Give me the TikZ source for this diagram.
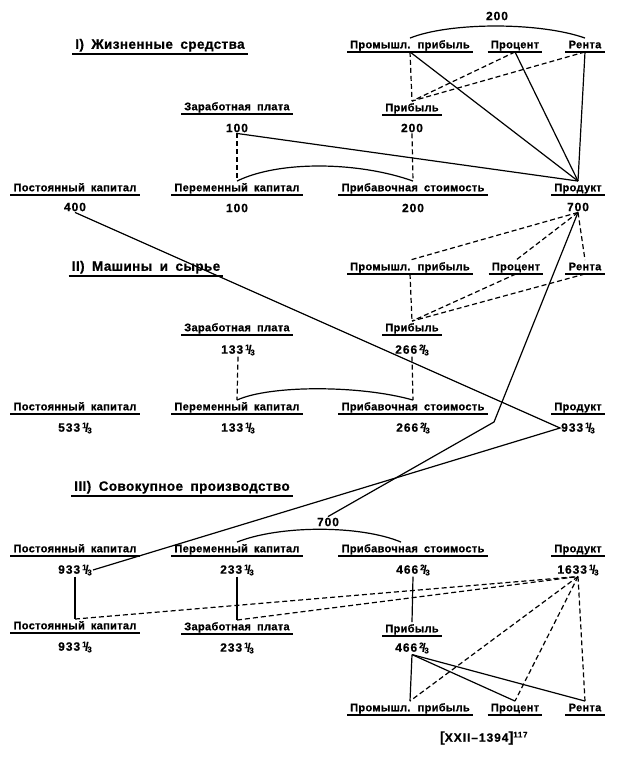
\documentclass[tikz,border=0pt]{standalone}
\usepackage{fontspec}
\setmainfont{Liberation Sans}
\newfontfamily\lblfont{Liberation Sans}[LetterSpace=3,WordSpace=1.8,BoldFeatures={FakeBold=0.6}]
\newfontfamily\numfont{Liberation Sans}[LetterSpace=8,BoldFeatures={FakeBold=0.6}]
\usetikzlibrary{calc}
\tikzset{>={stealth}}
\newcommand{\fr}[2]{\,\raisebox{.55ex}{\fontsize{8}{9}\selectfont#1}\kern-.12em/\kern-.1em\raisebox{-.25ex}{\fontsize{8}{9}\selectfont#2}}

\begin{document}
\begin{tikzpicture}[x=1pt,y=-1pt,
  lbl/.style={font=\lblfont\bfseries\fontsize{11}{12}\selectfont, inner xsep=3pt, inner ysep=2.5pt,
    text height=7.5pt, text depth=1pt,
    append after command={(\tikzlastnode.south west) edge[line width=1.7pt] (\tikzlastnode.south east)}},
  ttl/.style={lbl, font=\lblfont\bfseries\fontsize{13.5}{15}\selectfont, text height=10pt, text depth=2.5pt},
  num/.style={font=\numfont\bfseries\fontsize{12}{14}\selectfont, inner sep=1pt},
  ln/.style={line width=1.2pt},
  dsh/.style={line width=1.2pt, dash pattern=on 5pt off 3pt}]
\useasboundingbox (0,0) rectangle (619,763);

% I
\node[ttl] (t1) at (160,45) {I) Жизненные средства};
\node[lbl] (pp1) at (410,45) {Промышл. прибыль};
\node[lbl] (pc1) at (515,45) {Процент};
\node[lbl] (rn1) at (585,45) {Рента};
\node[num] (s1) at (497,16) {200};
\node[lbl] (zp1) at (237,107) {Заработная плата};
\node[num] (zp1v) at (237,128) {100};
\node[lbl] (pr1) at (412,108) {Прибыль};
\node[num] (pr1v) at (412,128) {200};
\node[lbl] (pk1) at (75,188) {Постоянный капитал};
\node[num] (pk1v) at (75,207) {400};
\node[lbl] (vk1) at (237,188) {Переменный капитал};
\node[num] (vk1v) at (237,208) {100};
\node[lbl] (ps1) at (413,188) {Прибавочная стоимость};
\node[num] (ps1v) at (413,208) {200};
\node[lbl] (pd1) at (578,188) {Продукт};
\node[num] (pd1v) at (578,207) {700};

\draw[ln] (pp1.north) .. controls (450,22) and (540,22) .. (rn1.north);
\draw[dsh] (pp1.south) -- (pr1.north);
\draw[dsh] (pc1.south) -- (pr1.north);
\draw[dsh] (rn1.south) -- (pr1.north);
\draw[ln] (pp1.south) -- (pd1.north);
\draw[ln] (pc1.south) -- (pd1.north);
\draw[ln] (rn1.south) -- (pd1.north);
\draw[ln] (zp1v.south) -- (pd1.north);
\draw[dsh] (zp1v.south) -- (vk1.north);
\draw[dsh] (pr1v.south) -- (ps1.north);
\draw[ln] (vk1.north) .. controls (280,160) and (360,162) .. (ps1.north);

% II
\node[ttl] (t2) at (146,267) {II) Машины и сырье};
\node[lbl] (pp2) at (410,267) {Промышл. прибыль};
\node[lbl] (pc2) at (516,267) {Процент};
\node[lbl] (rn2) at (585,267) {Рента};
\node[lbl] (zp2) at (237,328) {Заработная плата};
\node[num] (zp2v) at (238,350) {133\fr13};
\node[lbl] (pr2) at (412,328) {Прибыль};
\node[num] (pr2v) at (412,350) {266\fr23};
\node[lbl] (pk2) at (75,407) {Постоянный капитал};
\node[num] (pk2v) at (75,428) {533\fr13};
\node[lbl] (vk2) at (237,407) {Переменный капитал};
\node[num] (vk2v) at (238,428) {133\fr13};
\node[lbl] (ps2) at (413,407) {Прибавочная стоимость};
\node[num] (ps2v) at (413,428) {266\fr23};
\node[lbl] (pd2) at (578,407) {Продукт};
\node[num] (pd2v) at (578,428) {933\fr13};

\draw[dsh] (pd1v.south) -- (pp2.north);
\draw[dsh] (pd1v.south) -- (pc2.north);
\draw[dsh] (pd1v.south) -- (rn2.north);
\draw[dsh] (pp2.south) -- (pr2.north);
\draw[dsh] (pc2.south) -- (pr2.north);
\draw[dsh] (rn2.south) -- (pr2.north);
\draw[dsh] (zp2v.south) -- (vk2.north);
\draw[dsh] (pr2v.south) -- (ps2.north);
\draw[ln] (vk2.north) .. controls (270,385) and (360,385) .. (ps2.north);

% III
\node[ttl] (t3) at (182,487) {III) Совокупное производство};
\node[num] (s3) at (328,522) {700};
\node[lbl] (pk3) at (75,549) {Постоянный капитал};
\node[num] (pk3v) at (75,570) {933\fr13};
\node[lbl] (vk3) at (237,549) {Переменный капитал};
\node[num] (vk3v) at (237,570) {233\fr13};
\node[lbl] (ps3) at (413,549) {Прибавочная стоимость};
\node[num] (ps3v) at (413,570) {466\fr23};
\node[lbl] (pd3) at (578,549) {Продукт};
\node[num] (pd3v) at (578,570) {1633\fr13};
\node[lbl] (pk4) at (75,626) {Постоянный капитал};
\node[num] (pk4v) at (75,647) {933\fr13};
\node[lbl] (zp4) at (237,627) {Заработная плата};
\node[num] (zp4v) at (237,648) {233\fr13};
\node[lbl] (pr4) at (412,629) {Прибыль};
\node[num] (pr4v) at (412,648) {466\fr23};
\node[lbl] (pp4) at (410,708) {Промышл. прибыль};
\node[lbl] (pc4) at (515,708) {Процент};
\node[lbl] (rn4) at (585,708) {Рента};
\node[num] (src) at (484,738) {{\Large[}XXII–1394{\Large]}\textsuperscript{117}};

\coordinate (kn) at (494,422);
\draw[ln] (pk1v.south) -- (pd2v.west) -- (pk3v.east);
\draw[ln] (pd1v.south) -- (kn) -- (s3.north);
\draw[ln] (vk3.north) .. controls (280,525) and (360,525) .. ($(ps3.north)+(-12,0)$);
\draw[ln] (pk3v.south) -- (pk4.north);
\draw[dsh] (pk4.north) -- (pd3v.south);
\draw[ln] (vk3v.south) -- (zp4.north);
\draw[dsh] (zp4.north) -- (pd3v.south);
\draw[ln] (ps3v.south) -- (pr4.north);
\draw[ln] (pr4v.south) -- (pp4.north);
\draw[ln] (pr4v.south) -- (pc4.north);
\draw[ln] (pr4v.south) -- (rn4.north);
\draw[dsh] (pd3v.south) -- (pp4.north);
\draw[dsh] (pd3v.south) -- (pc4.north);
\draw[dsh] (pd3v.south) -- (rn4.north);
\end{tikzpicture}
\end{document}
